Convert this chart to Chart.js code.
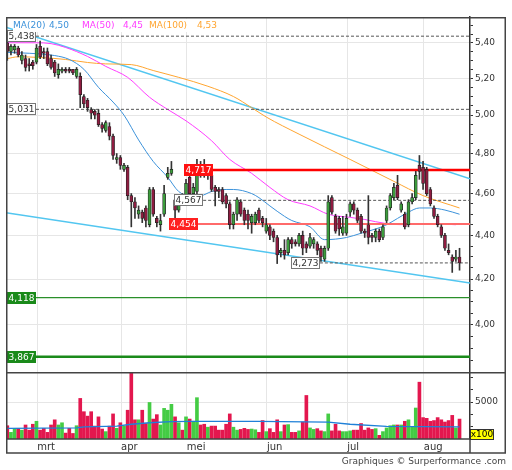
<!DOCTYPE html>
<html>
<head>
<meta charset="utf-8">
<script src="https://cdn.jsdelivr.net/npm/chart.js@4/dist/chart.umd.min.js"></script>
<style>
  html, body { margin:0; padding:0; background:#fff; }
  #wrap { position:relative; width:512px; height:470px; overflow:hidden; background:#fff; }
  canvas { position:absolute; left:0; }
</style>
</head>
<body>
<div id="wrap">
  <canvas id="price" width="512" height="372" style="top:0;width:512px;height:372px"></canvas>
  <canvas id="vol" width="512" height="98" style="top:372px;width:512px;height:98px"></canvas>
</div>
<script>
// ---------- DATA ----------
const open = [5.40,5.35,5.36,5.37,5.30,5.31,5.28,5.29,5.29,5.38,
5.35,5.35,5.31,5.29,5.22,5.24,5.25,5.25,5.25,5.21,
5.21,5.10,5.08,5.03,5.02,5.01,4.95,4.92,4.94,4.89,
4.77,4.78,4.72,4.73,4.59,4.56,4.50,4.51,4.53,4.45,
4.62,4.48,4.45,4.50,4.68,4.70,4.57,4.52,4.59,4.59,
4.68,4.60,4.61,4.73,4.72,4.69,4.69,4.63,4.62,4.62,
4.59,4.55,4.45,4.50,4.56,4.52,4.50,4.46,4.46,4.52,
4.48,4.42,4.44,4.42,4.39,4.32,4.33,4.32,4.38,4.37,
4.36,4.40,4.36,4.35,4.36,4.36,4.34,4.29,4.34,4.58,
4.49,4.48,4.41,4.41,4.51,4.55,4.52,4.49,4.42,4.45,
4.40,4.39,4.42,4.39,4.47,4.53,4.58,4.64,4.52,4.50,
4.45,4.56,4.58,4.74,4.73,4.72,4.62,4.53,4.49,4.44,
4.40,4.33,4.30,4.29,4.30];
const high = [5.42,5.39,5.39,5.38,5.35,5.33,5.31,5.30,5.39,5.41,
5.37,5.37,5.33,5.30,5.28,5.26,5.26,5.26,5.25,5.26,
5.23,5.11,5.09,5.04,5.03,5.03,4.96,4.97,4.96,4.90,
4.80,4.79,4.75,4.74,4.60,4.58,4.54,4.52,4.54,4.63,
4.63,4.49,4.50,4.64,4.73,4.76,4.59,4.59,4.60,4.67,
4.70,4.65,4.77,4.76,4.77,4.74,4.70,4.64,4.63,4.63,
4.60,4.56,4.51,4.58,4.57,4.53,4.52,4.50,4.51,4.53,
4.49,4.48,4.45,4.43,4.40,4.34,4.38,4.39,4.39,4.38,
4.41,4.42,4.37,4.41,4.39,4.37,4.35,4.35,4.59,4.59,
4.50,4.49,4.49,4.50,4.56,4.56,4.53,4.50,4.43,4.59,
4.41,4.43,4.43,4.45,4.54,4.60,4.65,4.69,4.56,4.51,
4.57,4.60,4.71,4.79,4.76,4.73,4.63,4.54,4.50,4.45,
4.41,4.36,4.31,4.33,4.34];
const low = [5.30,5.33,5.34,5.32,5.28,5.24,5.24,5.25,5.28,5.31,
5.31,5.27,5.25,5.21,5.20,5.23,5.23,5.23,5.22,5.20,
5.04,5.04,5.02,4.98,4.98,4.94,4.91,4.91,4.87,4.77,
4.75,4.72,4.71,4.57,4.44,4.48,4.48,4.46,4.44,4.44,
4.49,4.44,4.42,4.49,4.67,4.69,4.47,4.51,4.55,4.58,
4.59,4.58,4.60,4.68,4.68,4.67,4.61,4.54,4.58,4.55,
4.53,4.43,4.43,4.47,4.49,4.45,4.43,4.41,4.45,4.46,
4.44,4.41,4.38,4.37,4.27,4.30,4.29,4.31,4.34,4.35,
4.35,4.31,4.32,4.34,4.34,4.31,4.28,4.28,4.33,4.50,
4.41,4.40,4.40,4.40,4.49,4.50,4.46,4.41,4.39,4.36,
4.37,4.37,4.37,4.38,4.46,4.52,4.57,4.57,4.51,4.43,
4.44,4.55,4.57,4.67,4.62,4.59,4.54,4.48,4.44,4.39,
4.33,4.31,4.23,4.28,4.24];
const close = [5.35,5.38,5.38,5.33,5.33,5.26,5.27,5.27,5.37,5.32,
5.34,5.28,5.26,5.23,5.25,5.25,5.24,5.24,5.23,5.25,
5.11,5.06,5.04,5.01,5.00,4.95,4.93,4.96,4.89,4.79,
4.78,4.74,4.74,4.59,4.56,4.53,4.52,4.48,4.47,4.62,
4.50,4.46,4.47,4.60,4.70,4.72,4.52,4.58,4.57,4.65,
4.60,4.63,4.72,4.70,4.70,4.72,4.62,4.61,4.61,4.56,
4.55,4.45,4.50,4.57,4.50,4.47,4.47,4.49,4.50,4.47,
4.46,4.45,4.40,4.39,4.31,4.33,4.31,4.38,4.36,4.36,
4.40,4.34,4.34,4.39,4.38,4.33,4.30,4.34,4.56,4.51,
4.42,4.43,4.44,4.48,4.55,4.52,4.47,4.42,4.41,4.39,
4.39,4.42,4.38,4.44,4.53,4.59,4.63,4.58,4.55,4.44,
4.56,4.58,4.69,4.71,4.65,4.60,4.55,4.49,4.45,4.40,
4.34,4.32,4.28,4.30,4.273];
const volume = [1800,900,1450,1450,1200,1900,1200,2000,2400,1200,
1450,900,1900,2600,1900,2200,800,1450,750,1800,
5500,3700,3100,3700,1750,3000,1350,1000,1750,3400,
1450,2200,1750,3900,9000,2600,2600,3900,2100,4950,
2700,3300,1900,4150,3900,4700,3000,2200,1200,3000,
2700,2400,5600,1900,2000,1600,1750,1750,1200,1200,
2000,3400,1600,1200,1300,1450,1300,1350,1250,900,
2500,1000,1400,900,2600,1000,1900,1950,900,900,
1100,2300,5900,1500,1300,1400,1100,1000,3400,1100,
2000,1100,1000,1000,1100,1200,1200,2100,1200,1500,
1300,1400,500,1000,1500,1800,1900,1900,1900,2400,
2600,1600,4200,7700,2900,2800,2400,2500,2900,2600,
2300,2500,3200,1500,2700];

// moving averages (sample day index -> value)
const ma20Idx = [0,6,13,17,21,25,29,32,36,40,44,47,50,53,56,60,62,67,69,72,76,78,83,87,93,97,101,104,107,110,113,116,120,124];
const ma20    = [5.345,5.34,5.327,5.305,5.25,5.15,5.07,5.00,4.87,4.76,4.68,4.61,4.59,4.59,4.61,4.62,4.62,4.60,4.58,4.54,4.49,4.47,4.44,4.38,4.39,4.41,4.43,4.45,4.48,4.51,4.53,4.53,4.52,4.50];
const ma50Idx = [0,8,12,16,22,27,33,39,44,49,56,61,67,72,77,83,88,94,98,104,109,116,123];
const ma50    = [5.40,5.40,5.395,5.373,5.322,5.266,5.205,5.096,5.03,4.97,4.866,4.77,4.70,4.63,4.57,4.54,4.50,4.485,4.475,4.455,4.45,4.455,4.45];
const ma100Idx = [0,3,9,16,22,27,34,40,47,55,62,67,71,80,94,106,114,124];
const ma100    = [5.31,5.32,5.316,5.305,5.288,5.28,5.276,5.243,5.205,5.156,5.10,5.04,4.99,4.90,4.77,4.66,4.59,4.53];

// trend lines (start day, start value, end day, end value)
const trendUpper = [[-0.36, 5.49], [126.87, 4.673]];
const trendLower = [[-0.36, 4.507], [126.87, 4.183]];

// horizontal levels and the day where each one starts
const levels    = [5.438, 5.031, 4.717, 4.567, 4.454, 4.273, 4.118, 3.867];
const levelFrom = [-0.36, -0.36, 56.4, 53.7, 52.3, 85.7, -0.36, -0.36];

// volume moving average
const vmaIdx = [0,19,21,30,34,39,45,50,69,88,94,104,124];
const vma    = [1450,1500,1650,1750,2000,2200,2350,2400,2400,2300,2000,1700,1650];

// axes
const monthIdx    = [9,32,50,72,94,115];
const monthLabels = ['mrt','apr','mei','jun','jul','aug'];
const priceMajor  = [4.0,4.2,4.4,4.6,4.8,5.0,5.2,5.4];
const volTicks    = [1667,3333,5000,6667,8333];
const volLabelled = [5000];

// ---------- STYLE / LAYOUT ----------
const FONT = '"DejaVu Sans", Verdana, sans-serif';
const X_MIN = -0.356, X_MAX = 126.87;
const levelStyle = [
  {line:'#555', w:1, dash:[3,2], bg:'#fff', fg:'#333', border:'#777'},
  {line:'#555', w:1, dash:[3,2], bg:'#fff', fg:'#333', border:'#777'},
  {line:'#ff0000', w:2.5, dash:[], bg:'#ff1010', fg:'#fff'},
  {line:'#555', w:1, dash:[3,2], bg:'#fff', fg:'#333', border:'#777'},
  {line:'#ff6a6a', w:2, dash:[], bg:'#ff2020', fg:'#fff'},
  {line:'#555', w:1, dash:[3,2], bg:'#fff', fg:'#333', border:'#777'},
  {line:'#2a8f2a', w:1.3, dash:[], bg:'#1a8a1a', fg:'#fff'},
  {line:'#1a8a1a', w:2.5, dash:[], bg:'#1a8a1a', fg:'#fff'}
];
const fmt = (v, d) => v.toFixed(d).replace('.', ',');

const days = open.map((_, i) => i);
const up = days.map(i => close[i] >= open[i]);

// minor ticks every 0.05 between majors
const priceTicks = [];
for (let k = 77; k <= 110; k++) priceTicks.push(Math.round(k * 5) / 100);
const isMajor = v => priceMajor.some(m => Math.abs(m - v) < 1e-6);

const monthGrid = monthIdx.map(m => m - 0.8);

const noPad = s => { s.paddingTop = 0; s.paddingBottom = 0; s.paddingLeft = 0; s.paddingRight = 0; };

const xScaleBase = (showLabels) => ({
  type: 'linear', min: X_MIN, max: X_MAX, bounds: 'data', offset: false,
  afterBuildTicks: s => { s.ticks = monthGrid.map(v => ({value: v})); },
  afterFit: s => { s.height = showLabels ? 14 : 0; noPad(s); },
  grid: { color: '#e6e6e6', lineWidth: 1, drawTicks: false, offset: false },
  border: { display: false },
  ticks: {
    display: showLabels, autoSkip: false, maxRotation: 0, align: 'start', padding: 2,
    font: { family: FONT, size: 10 }, color: '#333',
    callback: (v, i) => monthLabels[i]
  }
});

const lineDS = (idxArr, vals, color, width, order) => ({
  type: 'line', data: idxArr.map((d, k) => ({x: d, y: vals[k]})),
  borderColor: color, borderWidth: width, pointRadius: 0, fill: false,
  cubicInterpolationMode: 'monotone', order
});

const priceDatasets = [
  { type: 'bar', data: days.map(i => ({x: i, y: [open[i], close[i]]})),
    backgroundColor: days.map(i => up[i] ? '#3c9c3c' : '#8e1c40'),
    borderColor: '#222', borderWidth: 0.7, borderSkipped: false,
    barThickness: 3, grouped: false, minBarLength: 1, order: 0 },
  { type: 'bar', data: days.map(i => ({x: i, y: [low[i], high[i]]})),
    backgroundColor: '#333', borderWidth: 0, barThickness: 1, grouped: false, order: 1 }
];
levels.forEach((v, k) => {
  const st = levelStyle[k];
  priceDatasets.push({ type: 'line', data: [{x: levelFrom[k], y: v}, {x: X_MAX, y: v}],
    borderColor: st.line, borderWidth: st.w, borderDash: st.dash, pointRadius: 0, fill: false, order: 2 });
});
priceDatasets.push(lineDS(ma20Idx, ma20, '#3c92da', 1, 3));
priceDatasets.push(lineDS(ma50Idx, ma50, '#ff3cff', 1, 3));
priceDatasets.push(lineDS(ma100Idx, ma100, '#ffa530', 1, 3));
[trendUpper, trendLower].forEach(t => priceDatasets.push({
  type: 'line', data: t.map(p => ({x: p[0], y: p[1]})), borderColor: '#52c6f0',
  borderWidth: 1.5, pointRadius: 0, fill: false, order: 4 }));

const pricePlugin = {
  id: 'priceDeco',
  afterDatasetsDraw(chart) {
    const {ctx, chartArea: a, scales: {x, y}} = chart;
    ctx.save();
    ctx.font = '9px ' + FONT;
    ctx.textBaseline = 'middle';
    ctx.textAlign = 'center';
    levels.forEach((v, k) => {
      const st = levelStyle[k];
      const py = y.getPixelForValue(v);
      const txt = fmt(v, 3);
      const w = Math.round(ctx.measureText(txt).width) + 3, h = 12;
      const left = levelFrom[k] <= X_MIN + 0.01 ? a.left + 1 : Math.round(x.getPixelForValue(levelFrom[k])) - w;
      const top = Math.round(py - h / 2);
      ctx.fillStyle = st.bg; ctx.fillRect(left, top, w, h);
      if (st.border) { ctx.strokeStyle = st.border; ctx.lineWidth = 1; ctx.strokeRect(left + 0.5, top + 0.5, w - 1, h - 1); }
      ctx.fillStyle = st.fg; ctx.fillText(txt, left + w / 2, top + h / 2 + 0.5);
    });
    // legend
    ctx.fillStyle = '#fff';
    ctx.fillRect(a.left + 7, a.top + 1.5, 204, 13.5);
    ctx.textAlign = 'left';
    const items = [
      ['MA(20)', a.left + 7, '#3c92da'], [fmt(ma20[ma20.length - 1], 2), a.left + 43, '#3c92da'],
      ['MA(50)', a.left + 76, '#ff3cff'], [fmt(ma50[ma50.length - 1], 2), a.left + 117, '#ff3cff'],
      ['MA(100)', a.left + 143, '#ffa530'], [fmt(ma100[ma100.length - 1], 2), a.left + 191, '#ffa530']
    ];
    items.forEach(([t, px, c]) => { ctx.fillStyle = c; ctx.fillText(t, px, a.top + 8.5); });
    ctx.restore();
  },
  afterDraw(chart) {
    const {ctx, chartArea: a} = chart;
    ctx.save();
    ctx.strokeStyle = '#444'; ctx.lineWidth = 1.5;
    ctx.beginPath();
    ctx.moveTo(a.left, a.top + 0.75); ctx.lineTo(chart.width - 6, a.top + 0.75);
    ctx.moveTo(a.left + 0.75, a.top); ctx.lineTo(a.left + 0.75, a.bottom);
    ctx.moveTo(chart.width - 6.75, a.top); ctx.lineTo(chart.width - 6.75, a.bottom);
    ctx.stroke();
    ctx.restore();
  }
};

new Chart(document.getElementById('price'), {
  type: 'bar',
  data: { datasets: priceDatasets },
  options: {
    responsive: false, animation: false, devicePixelRatio: 1, events: [],
    layout: { autoPadding: false, padding: { left: 6, right: 6, top: 17, bottom: 0 } },
    plugins: { legend: { display: false }, tooltip: { enabled: false } },
    scales: {
      x: xScaleBase(false),
      y: {
        type: 'logarithmic', position: 'right', min: 3.805, max: 5.55, bounds: 'data',
        afterBuildTicks: s => { s.ticks = priceTicks.map(v => ({value: v})); },
        afterFit: s => { s.width = 36; noPad(s); },
        grid: { color: c => (c.tick && isMajor(c.tick.value)) ? '#e6e6e6' : 'rgba(0,0,0,0)',
                tickColor: '#333', tickLength: 3, drawTicks: true },
        border: { display: true, color: '#333', width: 1.5 },
        ticks: { autoSkip: false, padding: 2, font: { family: FONT, size: 9 }, color: '#333',
                 callback: v => isMajor(v) ? fmt(v, 2) : '' }
      }
    }
  },
  plugins: [pricePlugin]
});

const volPlugin = {
  id: 'volDeco',
  afterDraw(chart) {
    const {ctx, chartArea: a} = chart;
    const R = chart.width - 6;
    const B = a.bottom + 14;
    ctx.save();
    ctx.strokeStyle = '#444'; ctx.lineWidth = 1.5;
    ctx.beginPath();
    ctx.moveTo(a.left, a.top + 0.75); ctx.lineTo(R, a.top + 0.75);
    ctx.moveTo(a.left, a.bottom); ctx.lineTo(a.right, a.bottom);
    ctx.moveTo(a.left, B); ctx.lineTo(R, B);
    ctx.moveTo(a.left + 0.75, a.top); ctx.lineTo(a.left + 0.75, B);
    ctx.moveTo(R - 0.75, a.top); ctx.lineTo(R - 0.75, B);
    ctx.moveTo(a.right, a.bottom); ctx.lineTo(a.right, B);
    ctx.stroke();
    // x100 box
    ctx.fillStyle = '#ffff00';
    ctx.fillRect(a.right, a.bottom - 10, 24, 11);
    ctx.lineWidth = 1; ctx.strokeStyle = '#333';
    ctx.strokeRect(a.right + 0.5, a.bottom - 9.5, 23, 10);
    ctx.fillStyle = '#000'; ctx.font = '9px ' + FONT; ctx.textBaseline = 'middle'; ctx.textAlign = 'center';
    ctx.fillText('x100', a.right + 12, a.bottom - 4);
    // credit
    ctx.fillStyle = '#444'; ctx.textAlign = 'right';
    ctx.fillText('Graphiques \u00A9 Surperformance .com', R, B + 9);
    ctx.restore();
  }
};

new Chart(document.getElementById('vol'), {
  type: 'bar',
  data: { datasets: [
    { type: 'line', data: vmaIdx.map((d, k) => ({x: d, y: vma[k]})), borderColor: '#1f80d8',
      borderWidth: 1.3, pointRadius: 0, fill: false, order: 0 },
    { type: 'bar', data: days.map(i => ({x: i, y: volume[i]})),
      backgroundColor: days.map(i => up[i] ? '#44cc44' : '#e3174e'),
      borderWidth: 0, barThickness: 3, grouped: false, order: 1 }
  ]},
  options: {
    responsive: false, animation: false, devicePixelRatio: 1, events: [],
    layout: { autoPadding: false, padding: { left: 6, right: 6, top: 0, bottom: 17 } },
    plugins: { legend: { display: false }, tooltip: { enabled: false } },
    scales: {
      x: xScaleBase(true),
      y: {
        type: 'linear', position: 'right', min: 0, max: 9080, bounds: 'data',
        afterBuildTicks: s => { s.ticks = volTicks.map(v => ({value: v})); },
        afterFit: s => { s.width = 36; noPad(s); },
        grid: { color: c => (c.tick && volLabelled.includes(c.tick.value)) ? '#e6e6e6' : 'rgba(0,0,0,0)',
                tickColor: '#333', tickLength: 3, drawTicks: true },
        border: { display: true, color: '#333', width: 1.5 },
        ticks: { autoSkip: false, padding: 2, font: { family: FONT, size: 9 }, color: '#333',
                 callback: v => volLabelled.includes(v) ? String(v) : '' }
      }
    }
  },
  plugins: [volPlugin]
});
</script>
</body>
</html>
